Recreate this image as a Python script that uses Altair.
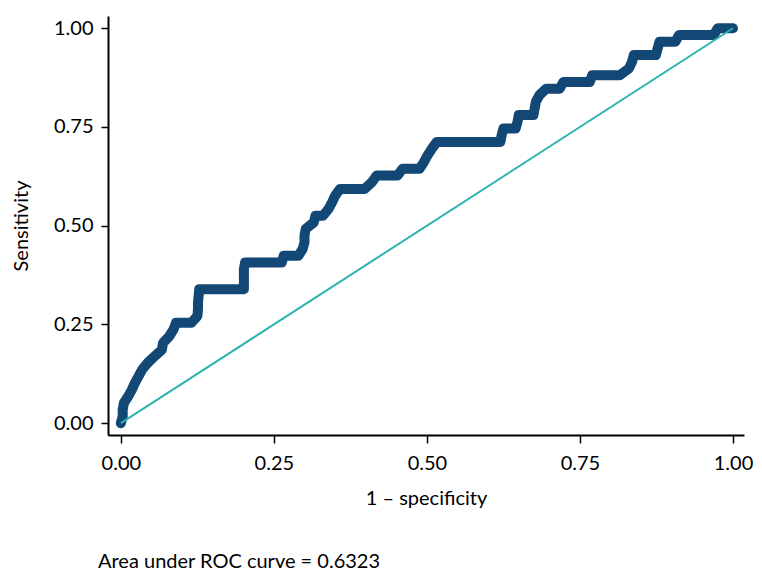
import altair as alt
import pandas as pd

fpr = [0.000, 0.003, 0.003, 0.005, 0.012, 0.018, 0.023, 0.029, 0.035, 0.044,
       0.055, 0.067, 0.069, 0.079, 0.086, 0.090, 0.115, 0.125, 0.126, 0.126,
       0.127, 0.128, 0.201, 0.201, 0.201, 0.201, 0.203, 0.263, 0.266, 0.290,
       0.297, 0.300, 0.300, 0.302, 0.315, 0.318, 0.330, 0.339, 0.345, 0.350,
       0.358, 0.398, 0.410, 0.418, 0.452, 0.460, 0.488, 0.495, 0.501, 0.508,
       0.516, 0.620, 0.622, 0.625, 0.645, 0.648, 0.650, 0.674, 0.676, 0.678,
       0.684, 0.695, 0.717, 0.723, 0.766, 0.770, 0.815, 0.830, 0.835, 0.838,
       0.874, 0.877, 0.880, 0.906, 0.912, 0.969, 0.975, 1.000]
tpr = [0.000, 0.017, 0.034, 0.051, 0.068, 0.085, 0.102, 0.119, 0.136, 0.153,
       0.169, 0.186, 0.203, 0.220, 0.237, 0.254, 0.254, 0.271, 0.288, 0.305,
       0.322, 0.339, 0.339, 0.356, 0.373, 0.390, 0.407, 0.407, 0.424, 0.424,
       0.441, 0.458, 0.475, 0.492, 0.508, 0.525, 0.525, 0.542, 0.559, 0.576,
       0.593, 0.593, 0.610, 0.627, 0.627, 0.644, 0.644, 0.661, 0.678, 0.695,
       0.712, 0.712, 0.729, 0.746, 0.746, 0.763, 0.780, 0.780, 0.797, 0.814,
       0.831, 0.847, 0.847, 0.864, 0.864, 0.881, 0.881, 0.898, 0.915, 0.932,
       0.932, 0.949, 0.966, 0.966, 0.983, 0.983, 1.000, 1.000]
ref_x = [0.0, 1.0]
ref_y = [0.0, 1.0]
ticks = [0.0, 0.25, 0.5, 0.75, 1.0]
note = "Area under ROC curve = 0.6323"

FONT = "Lato"
roc = pd.DataFrame({"fpr": fpr, "tpr": tpr, "order": range(len(fpr))})
ref = pd.DataFrame({"fpr": ref_x, "tpr": ref_y})

xscale = alt.Scale(domain=[-0.021, 1.018], nice=False, zero=False)
yscale = alt.Scale(domain=[-0.030, 1.031], nice=False, zero=False)

xaxis = alt.Axis(values=ticks, format=".2f", title="1 – specificity", grid=False,
                 labelFont=FONT, labelFontSize=20, labelColor="black",
                 titleFont=FONT, titleFontSize=20, titleFontWeight="normal",
                 titleColor="black", tickSize=8, tickWidth=1.5, tickColor="black",
                 domainColor="black", domainWidth=2, labelPadding=10, titlePadding=15)
yaxis = alt.Axis(values=ticks, format=".2f", title="Sensitivity", grid=False,
                 labelFont=FONT, labelFontSize=20, labelColor="black",
                 titleFont=FONT, titleFontSize=20, titleFontWeight="normal",
                 titleColor="black", tickSize=7, tickWidth=1.5, tickColor="black",
                 domainColor="black", domainWidth=2, labelPadding=8, titlePadding=22)

curve = alt.Chart(roc).mark_line(
    color="#134776", strokeWidth=10, strokeCap="round", strokeJoin="round"
).encode(
    x=alt.X("fpr:Q", scale=xscale, axis=xaxis),
    y=alt.Y("tpr:Q", scale=yscale, axis=yaxis),
    order="order:Q",
)

refline = alt.Chart(ref).mark_line(color="#2bb3ad", strokeWidth=2).encode(
    x=alt.X("fpr:Q", scale=xscale),
    y=alt.Y("tpr:Q", scale=yscale),
)

note_df = pd.DataFrame({"t": [note]})
note_mark = alt.Chart(note_df).mark_text(
    font=FONT, fontSize=20, align="left", baseline="middle", color="black"
).encode(x=alt.value(-10), y=alt.value(546), text="t:N")

chart = alt.layer(curve, refline, note_mark).properties(
    width=636, height=419,
    autosize=alt.AutoSizeParams(type="none"),
    padding={"left": 100, "top": 8, "right": 10, "bottom": 140},
).configure(background="white").configure_view(strokeWidth=0, stroke=None)

chart.save("out.html", embed_options={"renderer": "svg", "actions": False})
